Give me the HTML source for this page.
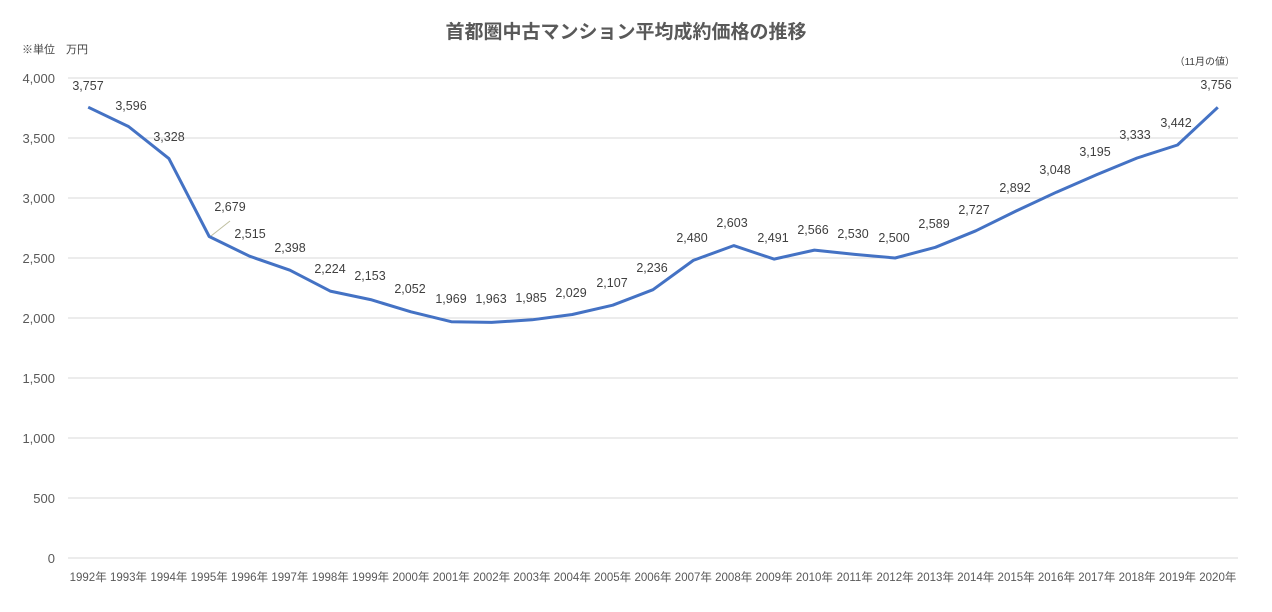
<!DOCTYPE html>
<html><head><meta charset="utf-8"><style>
body{margin:0;background:#fff;width:1272px;height:607px;overflow:hidden}
svg text{font-family:"Liberation Sans","Noto Sans CJK JP",sans-serif}
</style></head><body>
<svg width="1272" height="607" xmlns="http://www.w3.org/2000/svg">
<text x="626" y="38" text-anchor="middle" font-size="19" font-weight="bold" fill="#595959">首都圏中古マンション平均成約価格の推移</text>
<text x="22" y="53" font-size="11" fill="#404040">※単位　万円</text>
<text x="1235" y="65" text-anchor="end" font-size="10" fill="#404040">（11月の値）</text>
<g id="grid" stroke="#d9d9d9" stroke-width="1"></g>
<g id="yl" font-size="13" fill="#595959" text-anchor="end"></g>
<g id="xl" font-size="11.5" fill="#595959" text-anchor="middle"></g>
<line x1="211" y1="236" x2="230" y2="221" stroke="#bfbfa0" stroke-width="1"/>
<polyline id="ln" fill="none" stroke="#4472c4" stroke-width="3" stroke-linejoin="round"/>
<g id="dl" font-size="12.5" fill="#404040" text-anchor="middle"></g>
</svg>
<script>
var v=[3757,3596,3328,2679,2515,2398,2224,2153,2052,1969,1963,1985,2029,2107,2236,2480,2603,2491,2566,2530,2500,2589,2727,2892,3048,3195,3333,3442,3756];
var lp=[[88,86],[131,106],[169,137],[230,207],[250,234],[290,248],[330,269],[370,276],[410,289],[451,299],[491,299],[531,298],[571,293],[612,283],[652,268],[692,238],[732,223],[773,238],[813,230],[853,234],[894,238],[934,224],[974,210],[1015,188],[1055,170],[1095,152],[1135,135],[1176,123],[1216,85]];
var ns="http://www.w3.org/2000/svg";
function el(p,t,a,tx){var e=document.createElementNS(ns,t);for(var k in a)e.setAttribute(k,a[k]);if(tx!=null)e.textContent=tx;document.getElementById(p).appendChild(e);}
for(var i=0;i<=8;i++){var y=558-i*60;el("grid","line",{x1:68,x2:1238,y1:y,y2:y});el("yl","text",{x:55,y:y+5},(i*500).toLocaleString("en-US"));}
var pts=[];var w=(1238-68)/29;
for(var i=0;i<29;i++){var x=68+w*(i+0.5),y=558-v[i]*0.12;pts.push(x.toFixed(1)+","+y.toFixed(1));
el("xl","text",{x:x,y:581},(1992+i)+"年");
el("dl","text",{x:lp[i][0],y:lp[i][1]+4},v[i].toLocaleString("en-US"));}
document.getElementById("ln").setAttribute("points",pts.join(" "));
</script>
</body></html>
